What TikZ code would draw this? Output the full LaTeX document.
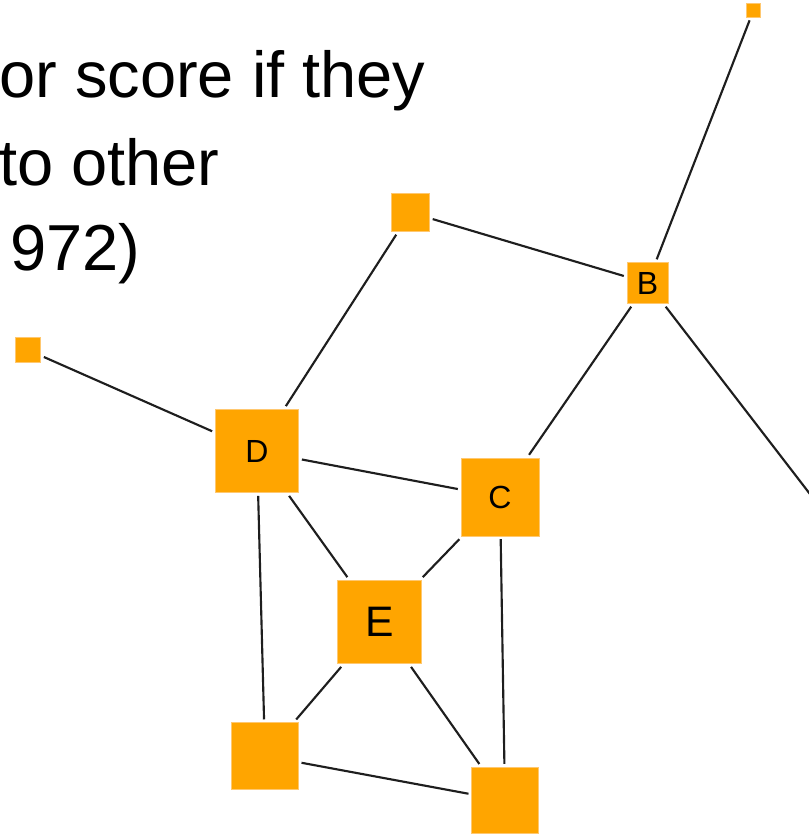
\documentclass[tikz,border=0pt]{standalone}
\usepackage{fontspec}
\setmainfont{Liberation Sans}
\definecolor{nodefill}{HTML}{FFA500}
\definecolor{nodeedge}{HTML}{FFC870}
\definecolor{edgecol}{HTML}{1E1E1E}
\begin{document}
\begin{tikzpicture}[x=0.75pt,y=-0.75pt,
  vert/.style={rectangle,fill=nodefill,draw=nodeedge,line width=0.6pt,inner sep=0pt,outer sep=2.4pt,font=\fontsize{24pt}{24pt}\selectfont},
  edge/.style={draw=edgecol,line width=1.6pt},
  caption/.style={inner sep=0pt,font=\fontsize{48.75pt}{58pt}\selectfont}]
\useasboundingbox (0,0) rectangle (809,835);
\clip (0,0) rectangle (809,835);
% text
\node[caption,anchor=base west] (t1) at (-1,97) {or score if they};
\node[caption,anchor=base west] (t2) at (-1,185) {to other};
\node[caption,anchor=base west] (t3) at (10,270) {972)};
% nodes
\node[vert,minimum size=10pt] (tr) at (753.4,10.5) {};
\node[vert,minimum size=28.5pt] (tm) at (410.5,212.5) {};
\node[vert,minimum size=30.75pt] (B) at (647.5,283) {B};
\node[vert,minimum size=19pt] (sl) at (28,350) {};
\node[vert,minimum size=62.5pt] (D) at (257,451) {D};
\node[vert,minimum size=58.5pt] (C) at (500,497) {C};
\node[vert,minimum size=62.5pt,font=\fontsize{32pt}{32pt}\selectfont] (E) at (379.5,622) {E};
\node[vert,minimum size=50pt] (bl) at (265,756) {};
\node[vert,minimum size=50pt] (br) at (505,800.5) {};
\coordinate (off) at (880,585);
% edges
\draw[edge] (tr) -- (B);
\draw[edge] (tm) -- (B);
\draw[edge] (B) -- (C);
\draw[edge] (B) -- (off);
\draw[edge] (tm) -- (D);
\draw[edge] (sl) -- (D);
\draw[edge] (D) -- (C);
\draw[edge] (D) -- (E);
\draw[edge] (D) -- (bl);
\draw[edge] (C) -- (E);
\draw[edge] (C) -- (br);
\draw[edge] (E) -- (bl);
\draw[edge] (E) -- (br);
\draw[edge] (bl) -- (br);
\end{tikzpicture}
\end{document}
